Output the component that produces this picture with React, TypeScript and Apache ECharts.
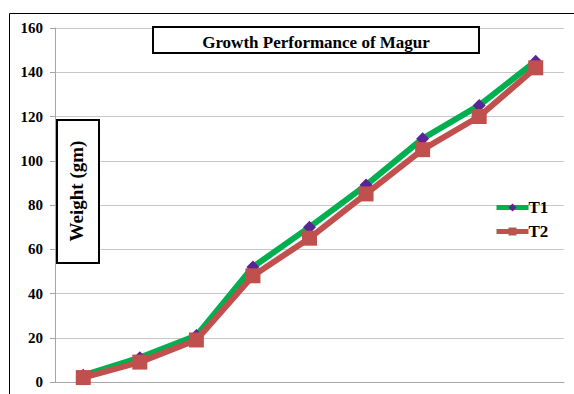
import React, { useEffect, useRef } from "react";
import * as echarts from "echarts";

const categories = ["1", "2", "3", "4", "5", "6", "7", "8", "9"];
const t1Values = [3, 11, 21, 52, 70, 89, 110, 125, 145];
const t2Values = [2, 9, 19, 48, 65, 85, 105, 120, 142];
const chartTitle = "Growth Performance of Magur";
const yAxisTitle = "Weight (gm)";

export default function App() {
  const ref = useRef<HTMLDivElement>(null);
  useEffect(() => {
    document.body.style.margin = "0";
    const chart = echarts.init(ref.current!, null, { renderer: "svg" });
    const font = "'Liberation Serif', 'Times New Roman', serif";
    chart.setOption({
      animation: false,
      backgroundColor: "#ffffff",
      grid: { left: 55, top: 28, width: 509, height: 354 },
      xAxis: {
        type: "category",
        data: categories,
        boundaryGap: true,
        axisLine: { show: true, lineStyle: { color: "#a6a6a6", width: 1 } },
        axisTick: { show: false },
        axisLabel: { show: false },
        splitLine: { show: false },
      },
      yAxis: {
        type: "value",
        min: 0,
        max: 160,
        interval: 20,
        axisLine: { show: true, lineStyle: { color: "#a6a6a6", width: 1 } },
        axisTick: { show: true, length: 5, lineStyle: { color: "#a6a6a6" } },
        axisLabel: {
          color: "#000",
          fontFamily: font,
          fontWeight: "bold",
          fontSize: 15,
          margin: 12,
        },
        splitLine: { show: true, lineStyle: { color: "#c8c8c8", width: 1 } },
      },
      legend: {
        orient: "vertical",
        left: 489,
        top: 194,
        itemWidth: 32,
        itemHeight: 10,
        itemGap: 7,
        textStyle: { color: "#000", fontFamily: font, fontWeight: "bold", fontSize: 17, padding: [0, 0, 0, -5] },
        data: [
          { name: "T1", itemStyle: { color: "#5a2494" }, lineStyle: { color: "#00b050", width: 5 } },
          { name: "T2", itemStyle: { color: "#c0504d" }, lineStyle: { color: "#c0504d", width: 5 } },
        ],
      },
      series: [
        {
          name: "T1",
          type: "line",
          data: t1Values,
          symbol: "diamond",
          symbolSize: 13,
          lineStyle: { color: "#00b050", width: 6 },
          itemStyle: { color: "#5a2494" },
          z: 2,
        },
        {
          name: "T2",
          type: "line",
          data: t2Values,
          symbol: "rect",
          symbolSize: 15,
          lineStyle: { color: "#c0504d", width: 6 },
          itemStyle: { color: "#c0504d" },
          z: 3,
        },
      ],
      graphic: [
        {
          type: "rect",
          left: 7,
          top: 11,
          shape: { x: 0, y: 0, width: 580, height: 400 },
          style: { fill: "none", stroke: "#000", lineWidth: 1 },
          silent: true,
          z: 0,
        },
        {
          type: "rect",
          shape: { x: 153, y: 27, width: 326, height: 26 },
          style: { fill: "#fff", stroke: "#000", lineWidth: 2 },
          z: 10,
        },
        {
          type: "text",
          x: 316,
          y: 42,
          style: {
            text: chartTitle,
            fill: "#000",
            font: "bold 17px " + font,
            textAlign: "center",
            textVerticalAlign: "middle",
          },
          z: 11,
        },
        {
          type: "rect",
          shape: { x: 57, y: 120, width: 42, height: 143 },
          style: { fill: "#fff", stroke: "#000", lineWidth: 2 },
          z: 10,
        },
        {
          type: "text",
          x: 76,
          y: 191,
          rotation: Math.PI / 2,
          style: {
            text: yAxisTitle,
            fill: "#000",
            font: "bold 19px " + font,
            textAlign: "center",
            textVerticalAlign: "middle",
          },
          z: 11,
        },
      ],
    });
    return () => chart.dispose();
  }, []);
  return <div ref={ref} style={{ position: "absolute", left: 0, top: 0, width: 574, height: 394 }} />;
}
